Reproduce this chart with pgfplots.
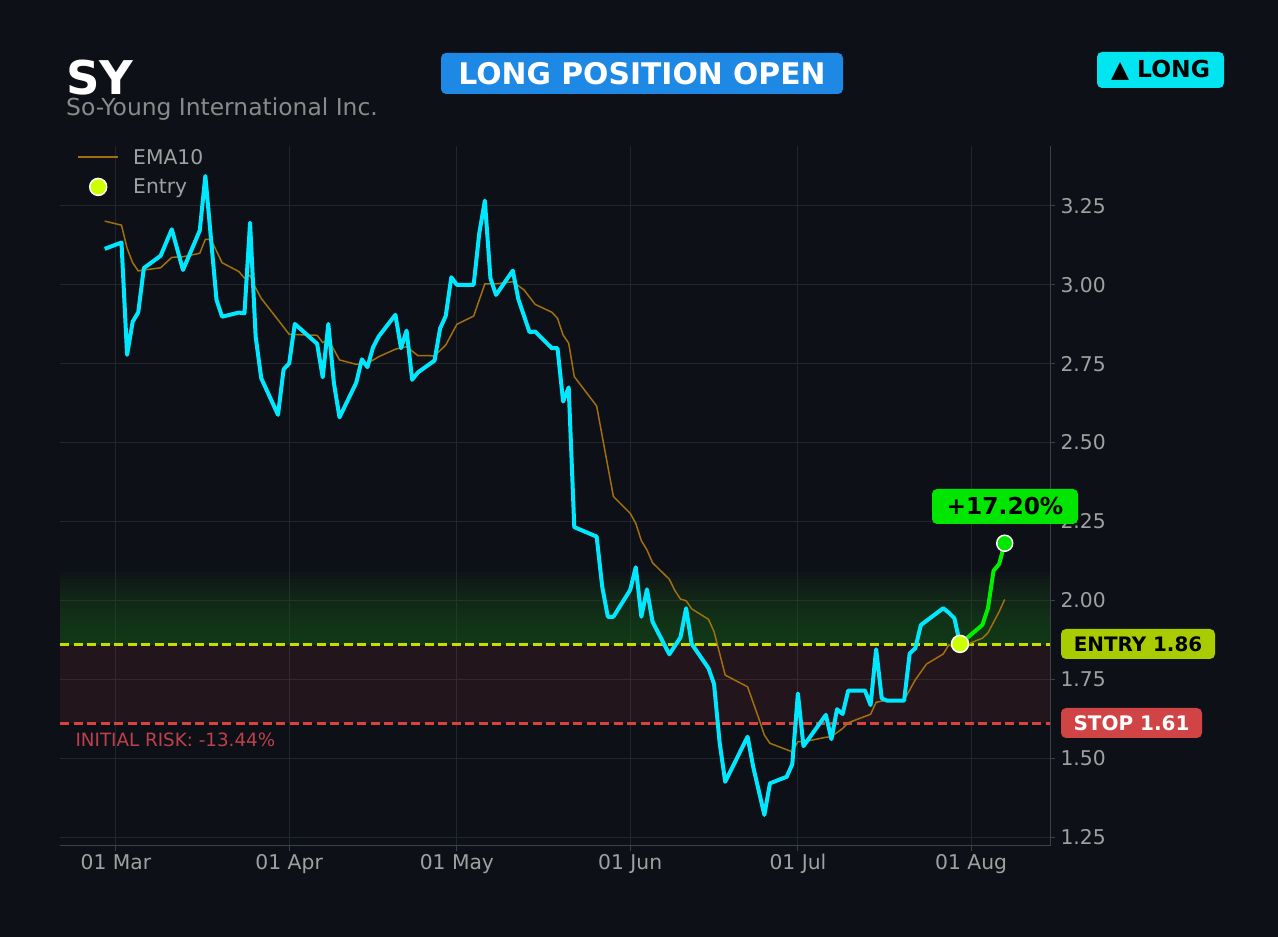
\documentclass[border=0pt]{standalone}
\usepackage{fontspec}
\setmainfont{DejaVu Sans}
\usepackage{pgfplots}
\pgfplotsset{compat=1.18}
\usepackage{pgfplotstable}

\definecolor{bg}{HTML}{0D1117}
\definecolor{cyanl}{HTML}{00E8FF}
\definecolor{ema}{HTML}{A0700F}
\definecolor{gline}{HTML}{00F000}
\definecolor{entryc}{HTML}{CCFF00}
\definecolor{entryline}{HTML}{C8DC00}
\definecolor{stopline}{HTML}{D9433F}
\definecolor{gridc}{HTML}{22272E}
\definecolor{spine}{HTML}{3C4148}
\definecolor{ticklab}{HTML}{A0A0A0}
\definecolor{subt}{HTML}{8A8A8A}
\definecolor{banner}{HTML}{1E88E5}
\definecolor{longbox}{HTML}{00E5F0}
\definecolor{pctbox}{HTML}{00E600}
\definecolor{entrybox}{HTML}{A8CC00}
\definecolor{stopbox}{HTML}{D04446}
\definecolor{riskc}{HTML}{C0404A}
\definecolor{redzone}{RGB}{220,60,70}
\definecolor{gzone}{RGB}{36,89,34}

\pgfplotsset{
  emaleg/.style={legend image code/.code={\draw[draw=ema, line width=2pt] (0pt,0pt) -- (40pt,0pt);}},
  entleg/.style={legend image code/.code={\path[draw=none] (0pt,0pt) -- (40pt,0pt); \draw[fill=entryc, draw=white, line width=1.5pt] (20pt,0pt) circle (8.5pt);}},
}

\pgfplotstableread{
d v
-2 3.114
1 3.134
2 2.778
3 2.883
4 2.913
5 3.053
8 3.092
10 3.176
12 3.047
15 3.172
16 3.345
18 2.952
19 2.899
22 2.912
23 2.910
24 3.197
25 2.836
26 2.704
29 2.588
30 2.732
31 2.751
32 2.876
36 2.813
37 2.707
38 2.876
39 2.688
40 2.580
43 2.690
44 2.764
45 2.739
46 2.802
47 2.836
50 2.905
51 2.799
52 2.855
53 2.699
54 2.722
57 2.760
58 2.862
59 2.901
60 3.024
61 3.000
64 3.000
65 3.163
66 3.267
67 3.021
68 2.968
71 3.045
72 2.954
74 2.850
75 2.852
78 2.799
79 2.799
80 2.630
81 2.675
82 2.232
86 2.202
87 2.043
88 1.948
89 1.948
92 2.033
93 2.105
94 1.948
95 2.035
96 1.932
99 1.829
101 1.883
102 1.975
103 1.862
106 1.785
107 1.735
108 1.549
109 1.425
113 1.568
114 1.473
116 1.320
117 1.420
120 1.441
121 1.481
122 1.705
123 1.538
127 1.637
128 1.560
129 1.655
130 1.640
131 1.714
134 1.714
135 1.668
136 1.845
137 1.689
138 1.682
141 1.682
142 1.832
143 1.848
144 1.922
148 1.975
149 1.961
150 1.943
151 1.862
}\closetbl

\pgfplotstableread{
d v
151 1.862
155 1.922
156 1.975
157 2.094
158 2.115
159 2.181
}\posttbl

\pgfplotstableread{
d v
-2 3.202
1 3.189
2 3.116
3 3.070
4 3.044
5 3.047
8 3.054
10 3.087
12 3.089
15 3.100
16 3.144
17 3.144
19 3.070
22 3.042
23 3.021
24 3.030
25 2.990
26 2.957
29 2.889
31 2.843
36 2.840
37 2.817
38 2.827
40 2.762
43 2.748
45 2.751
47 2.772
50 2.796
52 2.804
54 2.776
57 2.775
59 2.809
61 2.875
64 2.901
66 3.003
68 3.003
71 3.010
73 2.984
75 2.938
78 2.913
79 2.894
80 2.841
81 2.815
82 2.709
86 2.616
89 2.329
92 2.276
93 2.244
94 2.189
95 2.160
96 2.119
99 2.067
100 2.031
101 2.004
102 1.999
103 1.973
106 1.940
107 1.901
108 1.832
109 1.763
113 1.726
115 1.626
116 1.573
117 1.547
121 1.520
122 1.552
123 1.552
127 1.566
128 1.568
130 1.594
131 1.612
135 1.639
136 1.677
138 1.684
141 1.684
143 1.748
145 1.798
148 1.830
149 1.859
151 1.845
153 1.866
155 1.880
156 1.897
158 1.964
159 2.003
}\ematbl

\begin{document}
\begin{tikzpicture}
\fill[bg] (0pt,0pt) rectangle (1278pt,937pt);
\useasboundingbox (0pt,0pt) rectangle (1278pt,937pt);

\begin{axis}[
  at={(60pt,91pt)}, anchor=south west,
  scale only axis, width=990pt, height=700pt,
  xmin=-10, xmax=167.1, ymin=1.2215, ymax=3.44,
  axis x line*=bottom, axis y line*=right,
  axis line style={-, draw=spine, line width=1pt},
  xtick={0,31,61,92,122,153},
  xticklabels={01 Mar,01 Apr,01 May,01 Jun,01 Jul,01 Aug},
  ytick={1.25,1.5,1.75,2,2.25,2.5,2.75,3,3.25},
  /pgf/number format/assume math mode=true,
  yticklabel style={xshift=2pt, /pgf/number format/fixed, /pgf/number format/fixed zerofill, /pgf/number format/precision=2},
  ticklabel style={text=ticklab, font=\fontsize{20.3}{24}\selectfont},
  tick style={draw=spine, line width=1pt},
  major tick length=5pt, tick align=outside,
  grid=major, grid style={draw=gridc, line width=1pt},
  legend style={at={(0,1)}, anchor=north west, draw=none, fill=none,
    text=ticklab, font=\fontsize{20.3}{24}\selectfont,
    inner xsep=17pt, inner ysep=1pt, row sep=9pt,
    /tikz/every odd column/.append style={column sep=12pt}},
  legend cell align=left,
]
\fill[redzone, fill opacity=0.1] (axis cs:-10,1.61) rectangle (axis cs:167.1,1.86);
\pgfplotsinvokeforeach{1.8715,1.883,1.8945,1.906,1.9175,1.929,1.9405,1.952,1.9635,1.975,1.9865,1.998,2.0095,2.021,2.0325,2.044,2.0555,2.067,2.0785,2.09}{
  \fill[gzone, fill opacity=0.05] (axis cs:-10,1.86) rectangle (axis cs:167.1,#1);
}
\addplot[forget plot, entryline, line width=2.5pt, dash pattern=on 9pt off 4.5pt] coordinates {(-10,1.86) (167.1,1.86)};
\addplot[forget plot, stopline, line width=2.5pt, dash pattern=on 9pt off 4.5pt] coordinates {(-10,1.61) (167.1,1.61)};

\addplot[ema, line width=1.5pt, emaleg] table[x=d,y=v] {\ematbl};
\addlegendentry{EMA10}

\addplot[forget plot, cyanl, line width=4pt, line join=round] table[x=d,y=v] {\closetbl};
\addplot[forget plot, gline, line width=4pt, line join=round] table[x=d,y=v] {\posttbl};

\addplot[only marks, mark=*, mark size=8.5pt, mark options={fill=entryc, draw=white, line width=1.5pt}, entleg]
  coordinates {(151,1.862)};
\addlegendentry{Entry}

\addplot[forget plot, only marks, mark=*, mark size=8pt, mark options={fill=pctbox, draw=white, line width=1.5pt}]
  coordinates {(159,2.181)};
\end{axis}

\node[anchor=base west, text=white, font=\bfseries\fontsize{46.5}{52}\selectfont, inner sep=0pt] at (66pt,842pt) {SY};
\node[anchor=base west, text=subt, font=\fontsize{23.4}{28}\selectfont, inner sep=0pt] at (66pt,821pt) {So-Young International Inc.};

\fill[banner, rounded corners=5pt] (441pt,843pt) rectangle (843pt,884pt);
\node[text=white, font=\bfseries\fontsize{29.8}{33}\selectfont] at (642pt,863.5pt) {LONG POSITION OPEN};

\fill[longbox, rounded corners=5pt] (1097pt,849pt) rectangle (1224pt,885pt);
\node[text=black, font=\bfseries\fontsize{23.4}{27}\selectfont] at (1160.5pt,867pt) {▲ LONG};

\fill[pctbox, rounded corners=5pt] (932pt,413pt) rectangle (1078pt,448pt);
\node[text=black, font=\bfseries\fontsize{23.3}{27}\selectfont] at (1005pt,430.5pt) {+17.20\%};

\fill[entrybox, rounded corners=5pt] (1061pt,278pt) rectangle (1215pt,308pt);
\node[text=black, font=\bfseries\fontsize{19.9}{23}\selectfont] at (1138pt,293pt) {ENTRY 1.86};

\fill[stopbox, rounded corners=5pt] (1061pt,199pt) rectangle (1202pt,229pt);
\node[text=white, font=\bfseries\fontsize{20}{23}\selectfont] at (1131.5pt,214pt) {STOP 1.61};

\node[anchor=west, text=riskc, font=\fontsize{18.3}{22}\selectfont] at (72pt,197pt) {INITIAL RISK: -13.44\%};
\end{tikzpicture}
\end{document}
